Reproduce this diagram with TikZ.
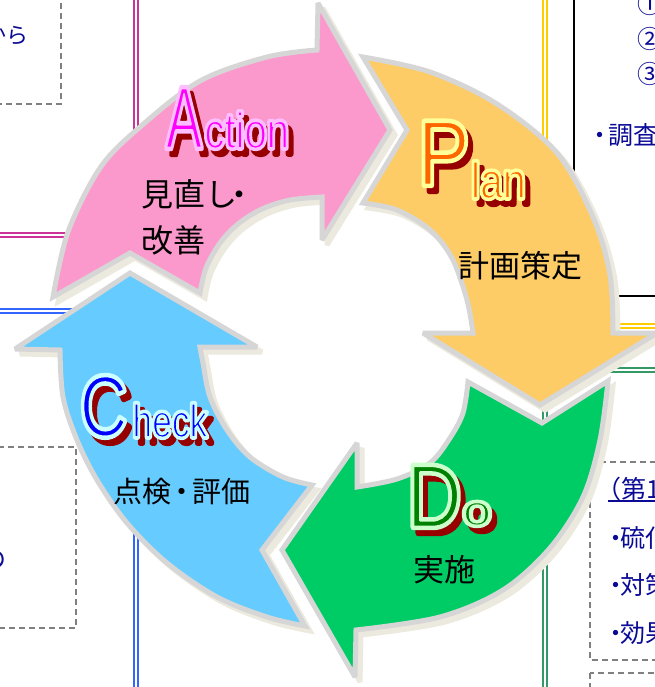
\documentclass[tikz,border=0pt]{standalone}
\usepackage{fontspec}
\usepackage{graphicx}
\newfontfamily\jpfont{Noto Sans CJK JP}
\newfontfamily\latfont{Liberation Sans}
\makeatletter
\newcommand\rawpdf[1]{\pgfsys@invoke{#1}}
\makeatother
\definecolor{pinkfill}{RGB}{252,153,204}
\definecolor{orangefill}{RGB}{254,204,102}
\definecolor{greenfill}{RGB}{0,204,102}
\definecolor{bluefill}{RGB}{102,204,255}
\definecolor{edgegray}{RGB}{214,214,214}
\definecolor{shadowcream}{RGB}{236,234,222}
\definecolor{wshadow}{RGB}{150,0,0}
\definecolor{navytxt}{RGB}{10,10,150}
\definecolor{dashgray}{RGB}{128,128,128}
\definecolor{magline}{RGB}{204,51,153}
\definecolor{blueline}{RGB}{51,102,255}
\definecolor{yelline}{RGB}{255,204,0}
\definecolor{grnline}{RGB}{51,153,102}
\definecolor{aFill}{RGB}{255,0,255}
\definecolor{pFill}{RGB}{255,102,0}
\definecolor{cFill}{RGB}{0,0,255}
\definecolor{dFill}{RGB}{0,128,0}
\tikzset{
  arrowbody/.style={line width=3.75pt, draw=edgegray, line join=miter, miter limit=3},
  arrowshadow/.style={line width=3.75pt, draw=shadowcream, fill=shadowcream, line join=miter, miter limit=3, shift={(5,5)}},
  waletter/.style={anchor=base west, inner sep=0pt, outer sep=0pt, font=\latfont},
  jplabel/.style={anchor=west, inner sep=0pt, text=black},
  navytext/.style={anchor=west, inner sep=0pt, font=\jpfont\fontsize{18.75}{22}\selectfont, text=navytxt},
  dashbox/.style={draw=dashgray, line width=1.1pt, dash pattern=on 4.5pt off 3pt},
  dblline/.style={double=white, double distance=1.6pt, line width=1.3pt},
}
% name, x, y, text, size(pt), xscale, fill colour, outline rgb (0-1), inner outline width
\newcommand\wordart[9]{%
  \pgfmathsetmacro\wathick{#9+2.8}%
  \node[waletter, text=wshadow] (#1-s) at ({#2+5},{#3+6}) {\fontsize{#5}{#5}\selectfont\rawpdf{q 2 Tr \wathick\space w 0.588 0 0 RG 1 j}\scalebox{#6}[1]{#4}\rawpdf{Q}};
  \node[waletter, text=#7] (#1-o) at (#2,#3) {\fontsize{#5}{#5}\selectfont\rawpdf{q 2 Tr \wathick\space w #8 rg #8 RG 1 j}\scalebox{#6}[1]{#4}\rawpdf{Q}};
  \node[waletter, text=#7] (#1) at (#2,#3) {\fontsize{#5}{#5}\selectfont\rawpdf{q 2 Tr #9 w #8 RG 1 j}\scalebox{#6}[1]{#4}\rawpdf{Q}};
}
\def\pathAction{(53,297) -- plot[smooth, tension=0.55] coordinates {(53,297) (68,232) (100,168) (140,127) (200,81) (267,57) (317,50)} -- (318,3) -- (390,130) -- (322,240) -- plot[smooth, tension=0.55] coordinates {(322,197) (290,200) (262,209) (238,224) (220,243) (206,268) (200,293)} -- (130,253) -- cycle}
\def\pathPlan{(363,57) -- plot[smooth, tension=0.55] coordinates {(363,57) (430,72) (497,104) (557,153) (593,217) (610,275) (613,333)} -- (657,333) -- (540,405) -- (423,333) -- plot[smooth, tension=0.55] coordinates {(473,333) (467,300) (452,258) (430,230) (397,210) (363,203)} -- (407,130) -- cycle}
\def\pathDo{(608,381) -- plot[smooth, tension=0.55] coordinates {(608,381) (600,440) (583,497) (550,548) (503,590) (440,617) (356,630)} -- (355,677) -- (282,550) -- (357,443) -- plot[smooth, tension=0.55] coordinates {(357,487) (397,479) (430,463) (450,438) (463,413) (468,382)} -- (542,423) -- cycle}
\def\pathCheck{(305,626) -- (262,550) -- (312,485) -- plot[smooth, tension=0.55] coordinates {(312,485) (283,477) (250,457) (227,430) (210,397) (203,363) (200,347)} -- (257,347) -- (130,273) -- (15,349) -- plot[smooth, tension=0.55] coordinates {(60,350) (63,397) (77,440) (97,480) (127,523) (167,563) (217,597) (267,617) (305,626)} -- cycle}
\begin{document}
\begin{tikzpicture}[x=0.75pt, y=-0.75pt]
\useasboundingbox (0,0) rectangle (655,687);
\clip (0,0) rectangle (655,687);
\fill[white] (0,0) rectangle (655,687);
% background boxes and lines
\draw[dashbox] (-10,-10) rectangle (61,104);
\draw[dashbox] (-10,447) rectangle (76,628);
\draw[dashbox] (590,462) rectangle (680,660);
\draw[dashbox] (590,673) rectangle (680,720);
\draw[dblline, draw=magline] (136,-10) -- (136,235) -- (-10,235);
\draw[dblline, draw=blueline] (-10,311) -- (136,311) -- (136,720);
\draw[dblline, draw=yelline] (545,-10) -- (545,326) -- (680,326);
\draw[dblline, draw=grnline] (680,370) -- (545,370) -- (545,720);
\draw[line width=1.3pt, black] (574,-10) -- (574,296) -- (680,296);
% background texts
\node[navytext, anchor=east, font=\jpfont\fontsize{16.5}{20}\selectfont] (tl) at (29,36) {から};
\node[navytext, anchor=east] (bl) at (7,560) {の};
\node[navytext] (n1) at (637,4) {①};
\node[navytext] (n2) at (637,39) {②};
\node[navytext] (n3) at (637,74) {③};
\node[navytext] (chosa) at (587,135) {・\hspace{-0.15em}調査};
\node[navytext] (dai) at (596,489) {（第1回）};
\coordinate (ulA) at (608,501);
\coordinate (ulB) at (670,501);
\draw[navytxt, line width=1.1pt] (ulA) -- (ulB);
\node[navytext] (b1) at (603,538) {・\hspace{-0.3em}硫化水素};
\node[navytext] (b2) at (603,585) {・\hspace{-0.3em}対策};
\node[navytext] (b3) at (603,633) {・\hspace{-0.3em}効果};
% arrow shadows
\path[arrowshadow] \pathAction;
\path[arrowshadow] \pathPlan;
\path[arrowshadow] \pathDo;
\path[arrowshadow] \pathCheck;
% arrows
\path[arrowbody, fill=pinkfill] \pathAction;
\path[arrowbody, fill=orangefill] \pathPlan;
\path[arrowbody, fill=greenfill] \pathDo;
\path[arrowbody, fill=bluefill] \pathCheck;
% word art letters
\wordart{A}{166}{148}{A}{65.25}{0.62}{aFill}{1 0.745 1}{2.0}
\wordart{ction}{204.5}{148}{ction}{37.5}{0.8}{aFill}{1 0.745 1}{1.3}
\wordart{P}{418}{185}{P}{69}{0.84}{pFill}{1 1 0.6}{2.0}
\wordart{lan}{471}{198}{lan}{37.5}{0.82}{pFill}{1 1 0.6}{1.3}
\wordart{C}{80}{436}{C}{64.5}{0.76}{cFill}{0.8 1 1}{2.0}
\wordart{heck}{132.5}{437}{heck}{34.5}{0.77}{cFill}{0.8 1 1}{1.3}
\wordart{D}{407}{527}{D}{66.75}{0.85}{dFill}{0.8 1 0.8}{2.0}
\wordart{o}{463}{525}{o}{31.5}{1.2}{dFill}{0.8 1 0.8}{1.3}
% Japanese labels
\node[jplabel, font=\jpfont\fontsize{24}{28}\selectfont] (act1) at (141.5,194) {見直し\hspace{-0.45em}・};
\node[jplabel, font=\jpfont\fontsize{24}{28}\selectfont] (act2) at (141.5,240) {改善};
\node[jplabel, font=\jpfont\fontsize{23.25}{28}\selectfont] (plan1) at (458.5,266) {計画策定};
\node[jplabel, font=\jpfont\fontsize{21.75}{26}\selectfont] (check1) at (113.5,492) {点検\hspace{-0.15em}・\hspace{-0.15em}評価};
\node[jplabel, font=\jpfont\fontsize{23.25}{28}\selectfont] (do1) at (413.5,570) {実施};
\end{tikzpicture}
\end{document}
